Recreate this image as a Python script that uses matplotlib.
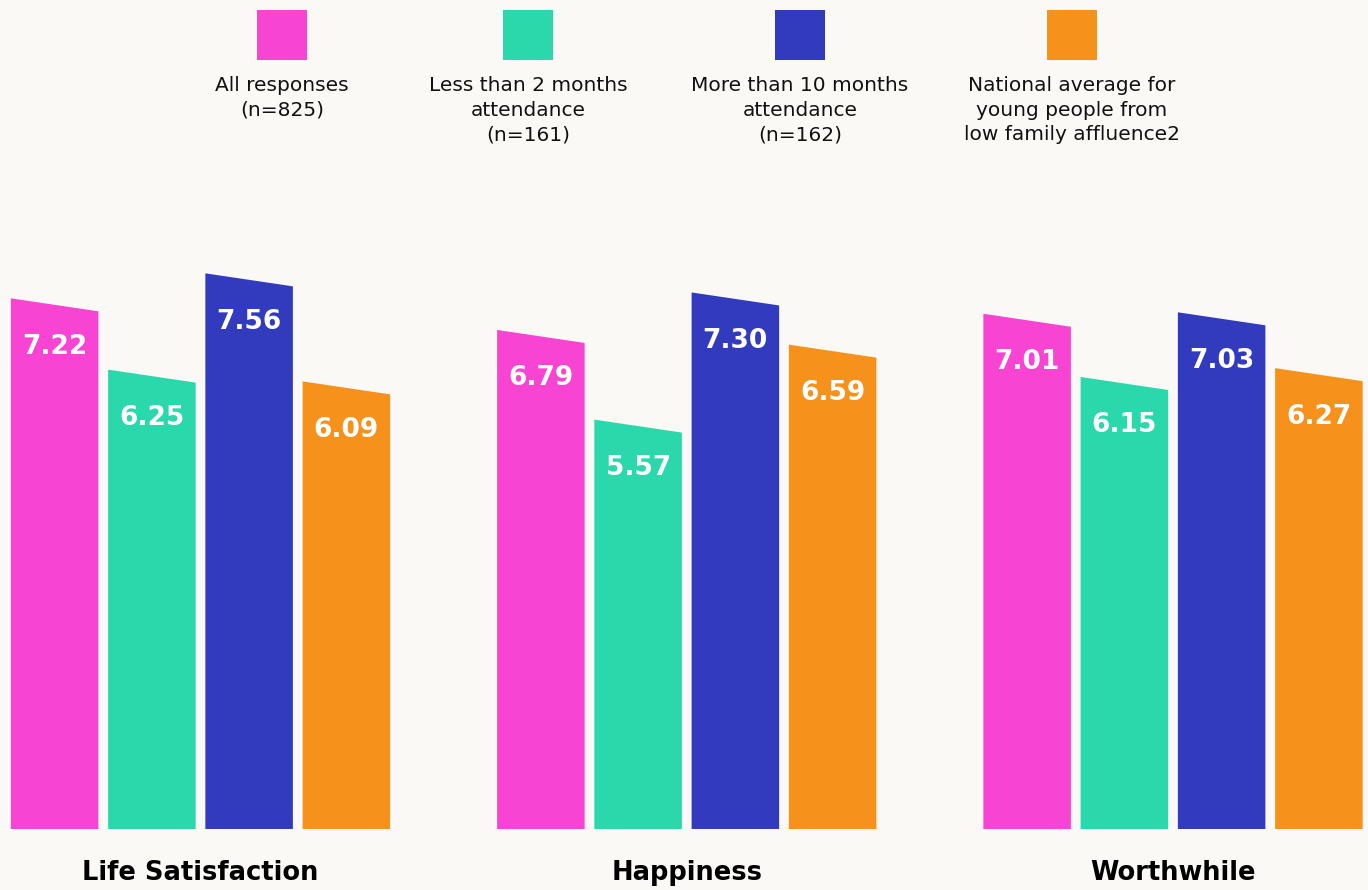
import matplotlib.pyplot as plt
from matplotlib.patches import Rectangle

categories = ["Life Satisfaction", "Happiness", "Worthwhile"]
series = ["All responses\n(n=825)",
          "Less than 2 months\nattendance\n(n=161)",
          "More than 10 months\nattendance\n(n=162)",
          "National average for\nyoung people from\nlow family affluence2"]
values = [
    [7.22, 6.79, 7.01],
    [6.25, 5.57, 6.15],
    [7.56, 7.30, 7.03],
    [6.09, 6.59, 6.27],
]
colors = ["#F844D2", "#2BD8AB", "#323BBE", "#F6921B"]
bg = "#FAF9F6"

px_per_unit = 73.5
slant = 13 / px_per_unit
width = 0.18
pitch = 0.2

fig = plt.figure(figsize=(13.68, 8.9), dpi=100, facecolor=bg)
ax = fig.add_axes([0, 61 / 890, 1, 829 / 890])
ax.set_facecolor(bg)
ax.set_xlim(-200.5 / 486.25, (1368 - 200.5) / 486.25)
ax.set_ylim(0, 829 / px_per_unit)
ax.axis("off")

for s, (vals, col) in enumerate(zip(values, colors)):
    off = (s - 1.5) * pitch
    for g, v in enumerate(vals):
        x0 = g + off - width / 2
        x1 = x0 + width
        ax.fill([x0, x0, x1, x1], [0, v, v - slant, 0], color=col, lw=0)
        ax.text(g + off, v - 0.66, f"{v:.2f}", ha="center", va="center",
                color="white", fontsize=19, fontweight="heavy")

for g, cat in enumerate(categories):
    ax.text(g, -0.6, cat, ha="center", va="center", fontsize=18.5,
            fontweight="heavy", color="black", clip_on=False)

# legend across the top
leg_x = [282, 528, 800, 1072]
for lx, lab, col in zip(leg_x, series, colors):
    fig.add_artist(Rectangle(((lx - 25) / 1368, 1 - 60 / 890), 50 / 1368, 50 / 890,
                             transform=fig.transFigure, color=col, lw=0))
    fig.text(lx / 1368, 1 - 76 / 890, lab, ha="center", va="top",
             fontsize=14.5, color="#111111", linespacing=1.38)

fig.savefig("out.png", dpi=100, facecolor=bg)
